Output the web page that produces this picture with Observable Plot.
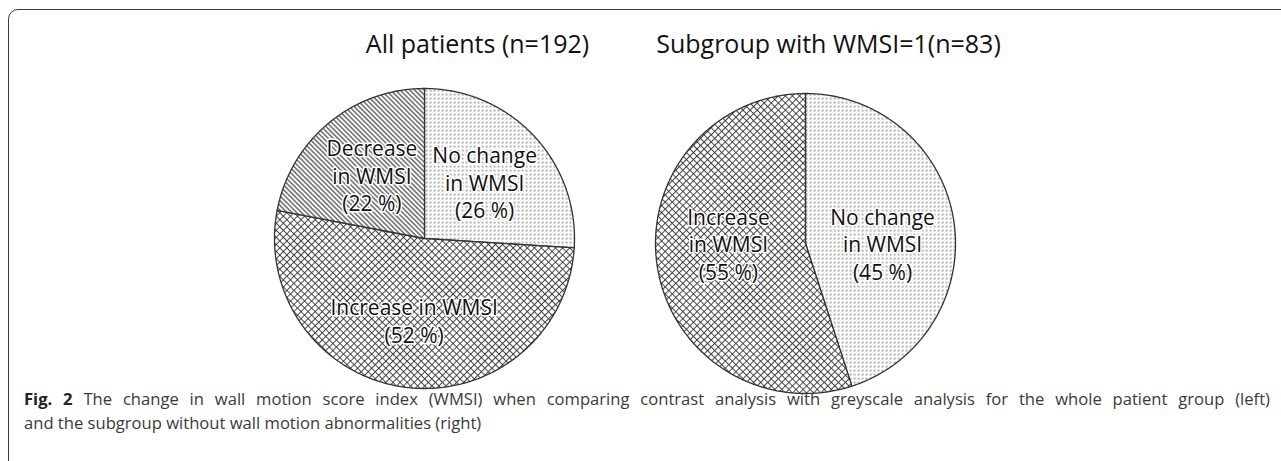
<!DOCTYPE html>
<html>
<head>
<meta charset="utf-8">
<script src="https://cdn.jsdelivr.net/npm/d3@7"></script>
<script src="https://cdn.jsdelivr.net/npm/@observablehq/plot@0.6"></script>
<style>
  html, body { margin: 0; padding: 0; background: #fff; width: 1281px; height: 461px; overflow: hidden; }
  #frame { position: absolute; left: 8px; top: 9px; right: -20px; bottom: -20px;
    border: 1.6px solid #3a3a3a; border-radius: 10px; }
  #chart { position: absolute; left: 0; top: 0; }
  #caption { position: absolute; left: 24px; top: 387px; width: 1246px;
    font-family: "Open Sans", sans-serif; font-size: 16.6px; line-height: 24px; color: #3a3a3a; }
  #caption .l1 { text-align: justify; text-align-last: justify; }
  #caption b { color: #222; }
</style>
</head>
<body>
<div id="frame"></div>
<div id="chart"></div>
<div id="caption">
  <div class="l1"><b>Fig. 2</b> The change in wall motion score index (WMSI) when comparing contrast analysis with greyscale analysis for the whole patient group (left)</div>
  <div>and the subgroup without wall motion abnormalities (right)</div>
</div>
<script>
// ---- data ----
const pieTitles = ["All patients (n=192)", "Subgroup with WMSI=1(n=83)"];
const categories = ["No change", "Increase", "Decrease"];
const leftCategories = ["No change", "Increase", "Decrease"];
const leftValues = [26, 52, 22];
const leftLabels = ["No change\nin WMSI", "Increase in WMSI", "Decrease\nin WMSI"];
const rightCategories = ["No change", "Increase"];
const rightValues = [45, 55];
const rightLabels = ["No change\nin WMSI", "Increase\nin WMSI"];

// ---- layout & style ----
const layout = {
  pies: [{cx: 424, cy: 238, labelR: 0.55, labelYScale: 1}, {cx: 805, cy: 243, labelR: 0.52, labelYScale: 0}],
  radius: 150,
  titleX: [477, 828],
  titleY: 52
};
const patterns = ["url(#dots)", "url(#cross)", "url(#hatch)"];

const pieData = [
  {title: pieTitles[0], cats: leftCategories, values: leftValues, labels: leftLabels},
  {title: pieTitles[1], cats: rightCategories, values: rightValues, labels: rightLabels}
];

const slicePts = [];
const labelRows = [];
const titleRows = [];
pieData.forEach((p, pi) => {
  const {cx, cy, labelR, labelYScale} = layout.pies[pi];
  const r = layout.radius;
  const rows = p.cats.map((c, i) => ({cat: c, value: p.values[i], label: p.labels[i]}));
  const arcs = d3.pie().sort(null).value(d => d.value)(rows);
  arcs.forEach((a, i) => {
    const key = pi + "-" + i;
    slicePts.push({key, cat: a.data.cat, x: cx, y: cy});
    const n = Math.max(2, Math.ceil((a.endAngle - a.startAngle) / (Math.PI / 360)));
    for (let k = 0; k <= n; k++) {
      const t = a.startAngle + (a.endAngle - a.startAngle) * k / n;
      slicePts.push({key, cat: a.data.cat, x: cx + r * Math.sin(t), y: cy - r * Math.cos(t)});
    }
    slicePts.push({key, cat: a.data.cat, x: cx, y: cy});
    const mid = (a.startAngle + a.endAngle) / 2;
    const lr = r * labelR;
    labelRows.push({
      x: cx + lr * Math.sin(mid),
      y: cy - lr * Math.cos(mid) * labelYScale,
      text: `${a.data.label}\n(${a.data.value} %)`
    });
  });
  titleRows.push({x: layout.titleX[pi], y: layout.titleY, text: p.title});
});

const plot = Plot.plot({
  width: 1281,
  height: 386,
  margin: 0,
  x: {type: "identity", axis: null},
  y: {type: "identity", axis: null},
  color: {domain: categories, range: patterns},
  style: {background: "transparent", overflow: "visible"},
  marks: [
    Plot.line(slicePts, {x: "x", y: "y", z: "key", fill: "cat", stroke: "#333", strokeWidth: 1.3, strokeLinejoin: "round"}),
    Plot.text(labelRows, {x: "x", y: "y", text: "text", fontSize: 21, fontFamily: "Open Sans",
      lineHeight: 1.3, lineAnchor: "middle", fill: "#111", stroke: "white", strokeWidth: 3}),
    Plot.text(titleRows, {x: "x", y: "y", text: "text", fontSize: 25, fontFamily: "Open Sans",
      lineAnchor: "bottom", fill: "#111"})
  ]
});

// pattern definitions
const svg = d3.select(plot);
const defs = svg.insert("defs", ":first-child");
const dots = defs.append("pattern").attr("id", "dots").attr("patternUnits", "userSpaceOnUse")
  .attr("width", 4).attr("height", 4);
dots.append("rect").attr("width", 4).attr("height", 4).attr("fill", "white");
dots.append("rect").attr("x", 1.5).attr("y", 1.5).attr("width", 1.2).attr("height", 1.2).attr("fill", "#2a2a2a");

const cross = defs.append("pattern").attr("id", "cross").attr("patternUnits", "userSpaceOnUse")
  .attr("width", 5).attr("height", 5).attr("patternTransform", "rotate(45)");
cross.append("rect").attr("width", 5).attr("height", 5).attr("fill", "white");
cross.append("path").attr("d", "M0,2.5H5M2.5,0V5").attr("stroke", "#333").attr("stroke-width", 0.9);

const hatch = defs.append("pattern").attr("id", "hatch").attr("patternUnits", "userSpaceOnUse")
  .attr("width", 10).attr("height", 3.4).attr("patternTransform", "rotate(45)");
hatch.append("rect").attr("width", 10).attr("height", 3.4).attr("fill", "white");
hatch.append("path").attr("d", "M0,1.7H10").attr("stroke", "#333").attr("stroke-width", 1.1);

document.getElementById("chart").appendChild(plot);
</script>
</body>
</html>
